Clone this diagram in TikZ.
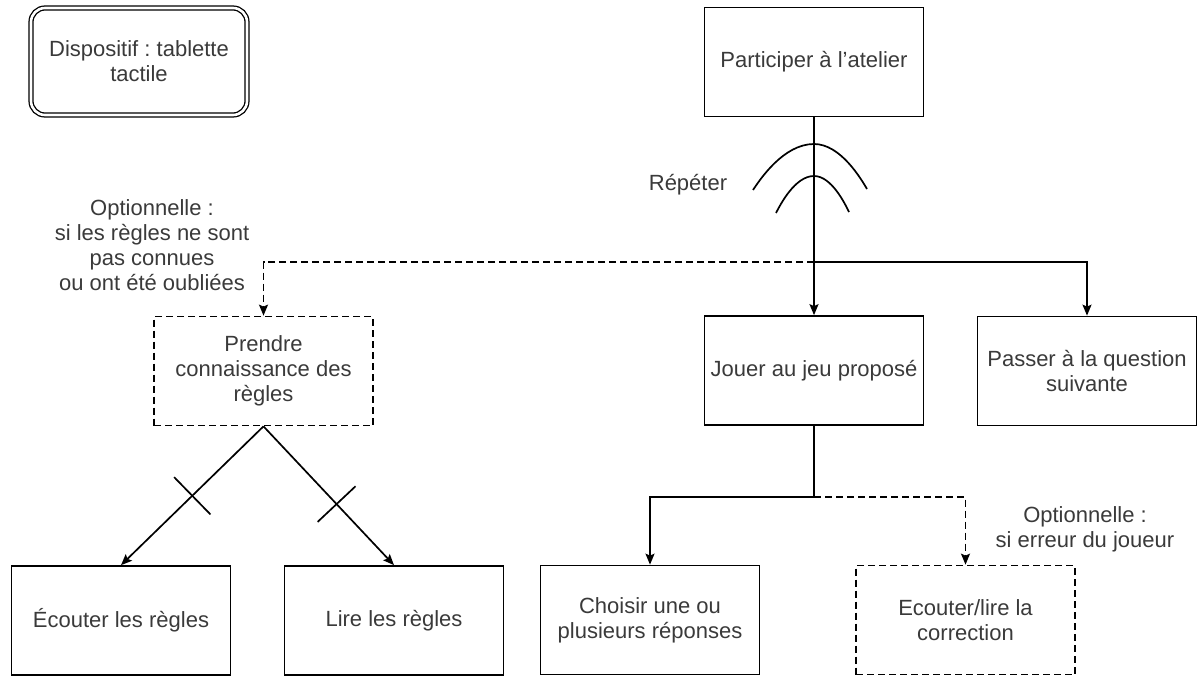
\documentclass[tikz,border=0pt]{standalone}
\usepackage{fontspec}
\setmainfont{Liberation Sans}
\usetikzlibrary{arrows.meta,decorations.markings}
\definecolor{ink}{HTML}{3A3A3A}
\frenchspacing
\begin{document}
\begin{tikzpicture}[x=1pt,y=-1pt,
  font=\fontsize{22}{25}\selectfont,
  every node/.style={text=ink, align=center, inner sep=0pt},
  box/.style={draw=black, line width=1.7pt, minimum width=219pt, minimum height=109pt},
  optbox/.style={box, dash pattern=on 7pt off 4pt},
  dispbox/.style={draw=black, line width=1.3pt, double, double distance=2.6pt,
    rounded corners=14pt, minimum width=216pt, minimum height=107pt},
  plain/.style={line width=1.7pt},
  link/.style={plain, -{Stealth[length=11pt,width=9pt,inset=2pt]}},
  optlink/.style={link, dash pattern=on 7pt off 4pt},
  onlyone/.style={postaction={decorate, decoration={markings,
    mark=at position #1 with {\draw[-, solid, line width=1.7pt] (0pt,-26pt) -- (0pt,26pt);}}}}
]
\useasboundingbox (0,0) rectangle (1198,676);

% boxes
\node[dispbox] (disp) at (139,61.5) {Dispositif : tablette\\tactile};
\node[box] (part) at (814,62) {Participer à l\symbol{39}atelier};
\node[optbox] (prendre) at (263.5,371) {Prendre\\connaissance des\\règles};
\node[box] (jouer) at (814,370.5) {Jouer au jeu proposé};
\node[box] (passer) at (1087,371) {Passer à la question\\suivante};
\node[box] (ecouter) at (121,620.5) {Écouter les règles};
\node[box] (lire) at (394,620.5) {Lire les règles};
\node[box] (choisir) at (650,620) {Choisir une ou\\plusieurs réponses};
\node[optbox] (corr) at (965.5,620) {Ecouter/lire la\\correction};

% free labels
\node (rep) at (688,185) {Répéter};
\node (opt1) at (152,245.5) {Optionnelle :\\si les règles ne sont\\pas connues\\ou ont été oubliées};
\node (opt2) at (1085,529) {Optionnelle :\\si erreur du joueur};

% branching points
\coordinate (j1) at (814,262);
\coordinate (j2) at (814,497);

% repetition symbol
\draw[plain] (753,190) parabola bend (814,144) (867,189);
\draw[plain] (776,213) parabola bend (814,176) (849,212);

% connectors
\draw[plain] (part) -- (j1);
\draw[link] (j1) -- (jouer);
\draw[link] (j1) -| (passer);
\draw[optlink] (j1) -| (prendre);
\draw[plain] (jouer) -- (j2);
\draw[link] (j2) -| (choisir);
\draw[optlink] (j2) -| (corr);
\draw[link, onlyone=0.5] (prendre.south) -- (ecouter.north);
\draw[link, onlyone=0.56] (prendre.south) -- (lire.north);
\end{tikzpicture}
\end{document}
